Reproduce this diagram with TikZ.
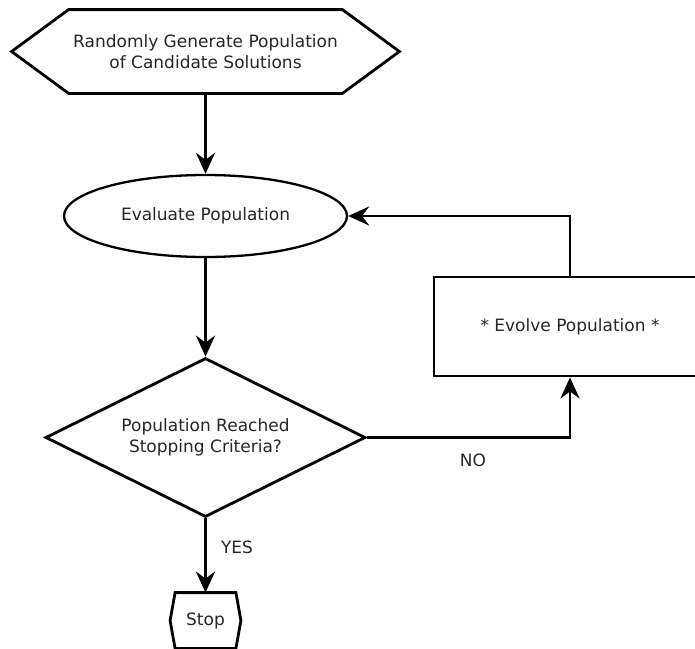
\documentclass[tikz,border=0pt]{standalone}
\usepackage{fontspec}
\setmainfont{DejaVu Sans}
\usetikzlibrary{shapes.geometric,arrows.meta}
\begin{document}
\begin{tikzpicture}[x=1pt,y=-1pt, line width=2.8pt,
  txt/.style={font=\fontsize{17}{21}\selectfont, text=black!85, align=center},
  arr/.style={-{Stealth[length=21pt,width=19pt,inset=7pt]}, line join=miter},
  hexbox/.style={line join=miter}
]
\clip (0,0) rectangle (695,648);
% start hexagon
\node[txt, minimum width=385pt, minimum height=81pt, inner sep=0] (gen) at (205.5,51.5) {Randomly Generate Population\\of Candidate Solutions};
\draw[hexbox] (gen.west) -- ([xshift=57pt]gen.north west) -- ([xshift=-57pt]gen.north east) -- (gen.east) -- ([xshift=-57pt]gen.south east) -- ([xshift=57pt]gen.south west) -- cycle;
% evaluate
\node[txt, draw, ellipse, minimum width=283pt, minimum height=82pt, inner sep=0, line width=2.3pt] (eval) at (205.5,216) {Evaluate Population};
% decision
\node[txt, draw, diamond, aspect=2, minimum width=320pt, minimum height=159pt, inner sep=0, line join=miter] (dec) at (205.5,437.5) {Population Reached\\Stopping Criteria?};
% evolve
\node[txt, draw, minimum width=272pt, minimum height=99pt, inner sep=0] (evo) at (570,326.5) {* Evolve Population *};
% stop
\node[txt, minimum width=68pt, minimum height=53pt, inner sep=0] (stop) at (205.5,620.5) {Stop};
\draw[hexbox] (stop.west) -- ([xshift=5pt]stop.north west) -- ([xshift=-5pt]stop.north east) -- (stop.east) -- ([xshift=-5pt]stop.south east) -- ([xshift=5pt]stop.south west) -- cycle;
% connectors
\draw[arr] (gen.south) -- (eval.north);
\draw[arr] (eval.south) -- (dec.north);
\draw[arr] (dec.east) -| (evo.south);
\draw[arr] (evo.north) |- (eval.east);
\draw[arr] (dec.south) -- (stop.north);
% labels
\node[txt] (yes) at (237,547) {YES};
\node[txt] (no) at (473,460) {NO};
\end{tikzpicture}
\end{document}
